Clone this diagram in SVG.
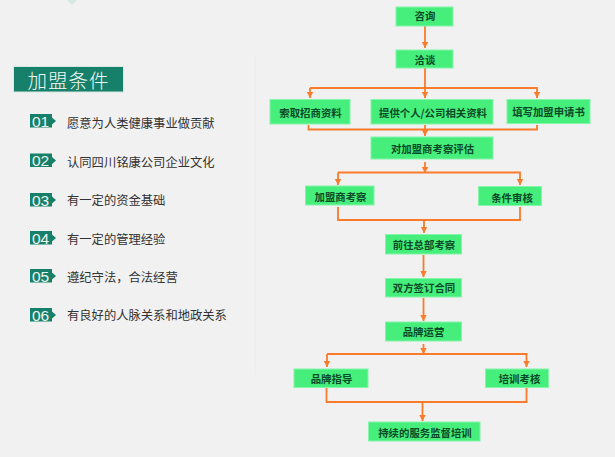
<svg xmlns="http://www.w3.org/2000/svg" width="615" height="457" viewBox="0 0 615 457">
<style>
.n rect{fill:#46ef7b;stroke:#86f4ab;stroke-width:1}
.n text{font-family:"Noto Sans CJK SC","Liberation Sans",sans-serif;font-weight:700;font-size:10.4px;fill:#0b4a28;text-anchor:middle;dominant-baseline:central}
.c path{fill:none;stroke:#f97b2b;stroke-width:1.8}
.b rect,.b path{fill:#17806a}
.b text{font-family:"Liberation Sans",sans-serif;font-size:15.5px;fill:#eaf5f1;text-anchor:middle;dominant-baseline:central}
.t{font-family:"Noto Sans CJK SC","Liberation Sans",sans-serif;font-size:12.3px;fill:#333;dominant-baseline:central}
</style>
<defs>
<marker id="a" markerUnits="userSpaceOnUse" markerWidth="7" markerHeight="8" refX="6.500" refY="4" orient="auto" viewBox="0 0 7 8"><path d="M0 0.500L6.500 4L0 7.500Z" fill="#f97b2b"/></marker>
</defs>
<rect width="615" height="457" fill="#f1f1f1"/>
<path d="M67 0H77L72 5Z" fill="#d6e9e5"/>
<path d="M255 55V375" stroke="#ececec" stroke-width="1"/>
<g id="title">
<rect x="13.500" y="66.500" width="110" height="25.500" fill="#17806a" stroke="#d8e8e3"/>
<text x="68.500" y="79.500" font-family="Noto Sans CJK SC,sans-serif" font-weight="300" font-size="19.500px" letter-spacing="1" fill="#f2f7f5" text-anchor="middle" dominant-baseline="central">加盟条件</text>
</g>
<g id="item1" class="b"><rect x="30" y="114" width="22" height="13.500"/><path d="M52 117.500L56 121L52 124.500Z"/><text x="40.500" y="121">01</text></g>
<text class="t" x="67" y="123">愿意为人类健康事业做贡献</text>
<g id="item2" class="b"><rect x="30" y="153.500" width="22" height="13.500"/><path d="M52 157L56 160.500L52 164Z"/><text x="40.500" y="160.500">02</text></g>
<text class="t" x="67" y="161.500">认同四川铭康公司企业文化</text>
<g id="item3" class="b"><rect x="30" y="193" width="22" height="13.500"/><path d="M52 196.500L56 200L52 203.500Z"/><text x="40.500" y="200">03</text></g>
<text class="t" x="67" y="200">有一定的资金基础</text>
<g id="item4" class="b"><rect x="30" y="231" width="22" height="13.500"/><path d="M52 234.500L56 238L52 241.500Z"/><text x="40.500" y="238">04</text></g>
<text class="t" x="67" y="238.500">有一定的管理经验</text>
<g id="item5" class="b"><rect x="30" y="269" width="22" height="13.500"/><path d="M52 272.500L56 276L52 279.500Z"/><text x="40.500" y="276">05</text></g>
<text class="t" x="67" y="276.500">遵纪守法，合法经营</text>
<g id="item6" class="b"><rect x="30" y="308" width="22" height="13.500"/><path d="M52 311.500L56 315L52 318.500Z"/><text x="40.500" y="315">06</text></g>
<text class="t" x="67" y="314.500">有良好的人脉关系和地政关系</text>
<g id="connectors" class="c">
<path d="M425 26V48" marker-end="url(#a)"/>
<path d="M425 68V98" marker-end="url(#a)"/>
<path d="M310 88H537V98" marker-end="url(#a)"/>
<path d="M310 88V98" marker-end="url(#a)"/>
<path d="M308.500 125V129.500H537V125"/>
<path d="M425 125V136" marker-end="url(#a)"/>
<path d="M425 162V173" marker-end="url(#a)"/>
<path d="M338 172.500H520V185" marker-end="url(#a)"/>
<path d="M338 172.500V185" marker-end="url(#a)"/>
<path d="M338 207V220H520V207"/>
<path d="M424 220V233" marker-end="url(#a)"/>
<path d="M423.500 255V277" marker-end="url(#a)"/>
<path d="M423.500 298V321" marker-end="url(#a)"/>
<path d="M423.500 344V354" marker-end="url(#a)"/>
<path d="M327 354H526.500V367" marker-end="url(#a)"/>
<path d="M327 354V367" marker-end="url(#a)"/>
<path d="M326.500 388V402H526.500V388"/>
<path d="M422.500 402V421" marker-end="url(#a)"/>
</g>
<g id="n1" class="n"><rect x="396" y="7" width="57" height="19"/><text x="425" y="15.500">咨询</text></g>
<g id="n2" class="n"><rect x="396" y="50" width="57" height="18"/><text x="425" y="59.500">洽谈</text></g>
<g id="n3" class="n"><rect x="270" y="99.500" width="80" height="24.500"/><text x="310.500" y="112.500">索取招商资料</text></g>
<g id="n4" class="n"><rect x="371" y="99.500" width="122" height="24.500"/><text x="433" y="112.500">提供个人/公司相关资料</text></g>
<g id="n5" class="n"><rect x="507" y="99.500" width="83" height="24"/><text x="548.500" y="111.500">填写加盟申请书</text></g>
<g id="n6" class="n"><rect x="371" y="137" width="122" height="22"/><text x="432.500" y="148.500">对加盟商考察评估</text></g>
<g id="n7" class="n"><rect x="305.500" y="186" width="68.500" height="19"/><text x="340.500" y="196.500">加盟商考察</text></g>
<g id="n8" class="n"><rect x="478.500" y="186.500" width="63" height="19"/><text x="512" y="197">条件审核</text></g>
<g id="n9" class="n"><rect x="385.500" y="234.500" width="76" height="19.500"/><text x="424" y="244.500">前往总部考察</text></g>
<g id="n10" class="n"><rect x="385.500" y="278.500" width="76" height="18.500"/><text x="424" y="287.500">双方签订合同</text></g>
<g id="n11" class="n"><rect x="385.500" y="322" width="76" height="19"/><text x="423.500" y="331.500">品牌运营</text></g>
<g id="n12" class="n"><rect x="294" y="369" width="74" height="18.500"/><text x="331.500" y="378">品牌指导</text></g>
<g id="n13" class="n"><rect x="485.500" y="369" width="63" height="18.500"/><text x="519.500" y="378.500">培训考核</text></g>
<g id="n14" class="n"><rect x="368.500" y="422" width="111.500" height="19"/><text x="425" y="432">持续的服务监督培训</text></g>
</svg>
